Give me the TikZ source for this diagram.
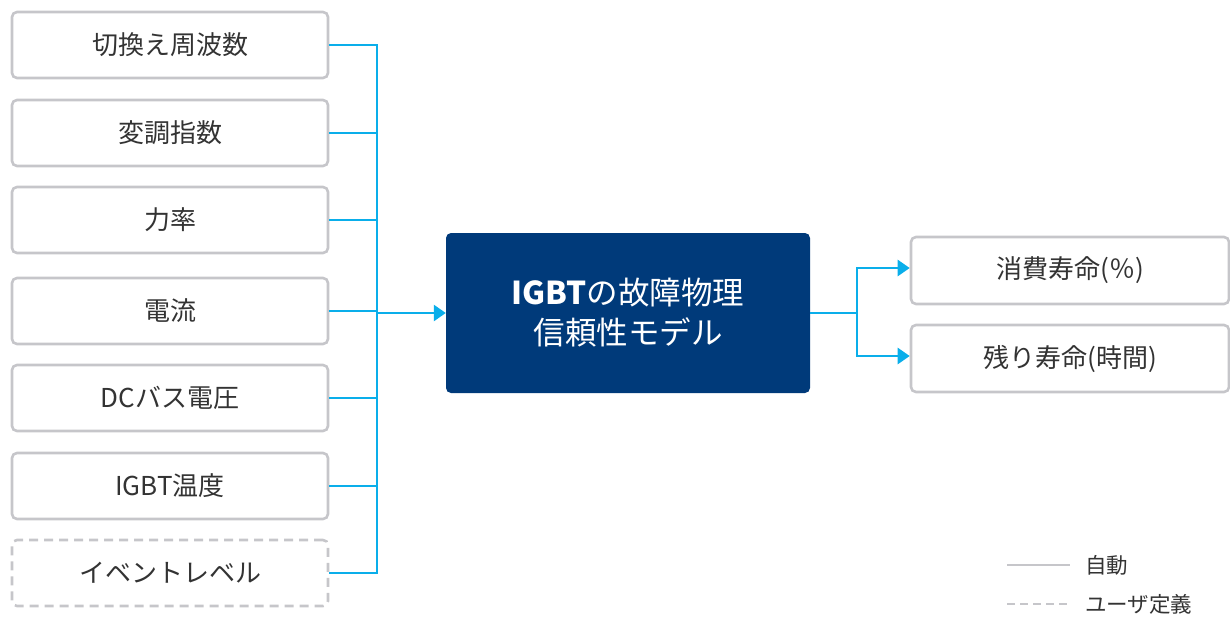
\documentclass[tikz,border=0pt]{standalone}
\usepackage{fontspec}
\setmainfont{Noto Sans CJK JP}
\usetikzlibrary{arrows.meta}
\definecolor{boxgray}{HTML}{C6C6CA}
\definecolor{linkblue}{HTML}{0AAEEA}
\definecolor{navy}{HTML}{003A7A}
\definecolor{txtgray}{HTML}{333333}
\tikzset{
  inbox/.style={draw=boxgray, line width=2.6pt, rounded corners=5pt, minimum width=316pt, minimum height=66pt, inner sep=0pt, text=txtgray, font=\fontsize{26}{30}\selectfont},
  userbox/.style={inbox, dash pattern=on 9pt off 6pt},
  outbox/.style={inbox, minimum width=318pt, minimum height=67pt},
  core/.style={fill=navy, draw=none, rounded corners=5pt, minimum width=364pt, minimum height=160pt, text=white, align=center, font=\fontsize{31.5}{40}\selectfont},
  link/.style={draw=linkblue, line width=2.6pt},
  arr/.style={link, -{Triangle[length=12pt,width=16pt]}},
  legtxt/.style={text=txtgray, font=\fontsize{21.5}{24}\selectfont, anchor=west, inner sep=0pt}
}
\begin{document}
\begin{tikzpicture}[x=1pt,y=-1pt]
\useasboundingbox (0,0) rectangle (1230,616);
\node[inbox] (a) at (170,45) {切換え周波数};
\node[inbox] (b) at (170,133) {変調指数};
\node[inbox] (c) at (170,220) {力率};
\node[inbox] (d) at (170,311) {電流};
\node[inbox] (e) at (170,398) {DCバス電圧};
\node[inbox] (f) at (170,486) {IGBT温度};
\node[userbox] (g) at (170,573) {イベントレベル};
\node[core] (m) at (628,313) {{\bfseries IGBT}の故障物理\\信頼性モデル};
\node[outbox] (o1) at (1070,270.5) {消費寿命(％)};
\node[outbox] (o2) at (1070,358.5) {残り寿命(時間)};
\coordinate (bt) at (377,45);
\coordinate (bb) at (377,573);
\coordinate (bm) at (377,313);
\coordinate (sm) at (857,313);
\coordinate (st) at (857,268);
\coordinate (sb) at (857,356);
\foreach \n in {a,b,c,d,e,f,g} { \draw[link] (\n.east) -- (\n.east -| bm); }
\draw[link, line cap=rect] (bt) -- (bb);
\draw[arr] (bm) -- (m.west);
\draw[link] (m.east) -- (sm);
\draw[link, line cap=rect] (st) -- (sb);
\draw[arr] (st) -- (st -| o1.west);
\draw[arr] (sb) -- (sb -| o2.west);
\coordinate (l1a) at (1007,565);
\coordinate (l1b) at (1070,565);
\coordinate (l2a) at (1007,604);
\coordinate (l2b) at (1070,604);
\draw[draw=boxgray, line width=2.6pt] (l1a) -- (l1b);
\draw[draw=boxgray, line width=2.6pt, dash pattern=on 8pt off 5pt] (l2a) -- (l2b);
\node[legtxt] (t1) at (1085,565) {自動};
\node[legtxt] (t2) at (1085,604) {ユーザ定義};
\end{tikzpicture}
\end{document}
